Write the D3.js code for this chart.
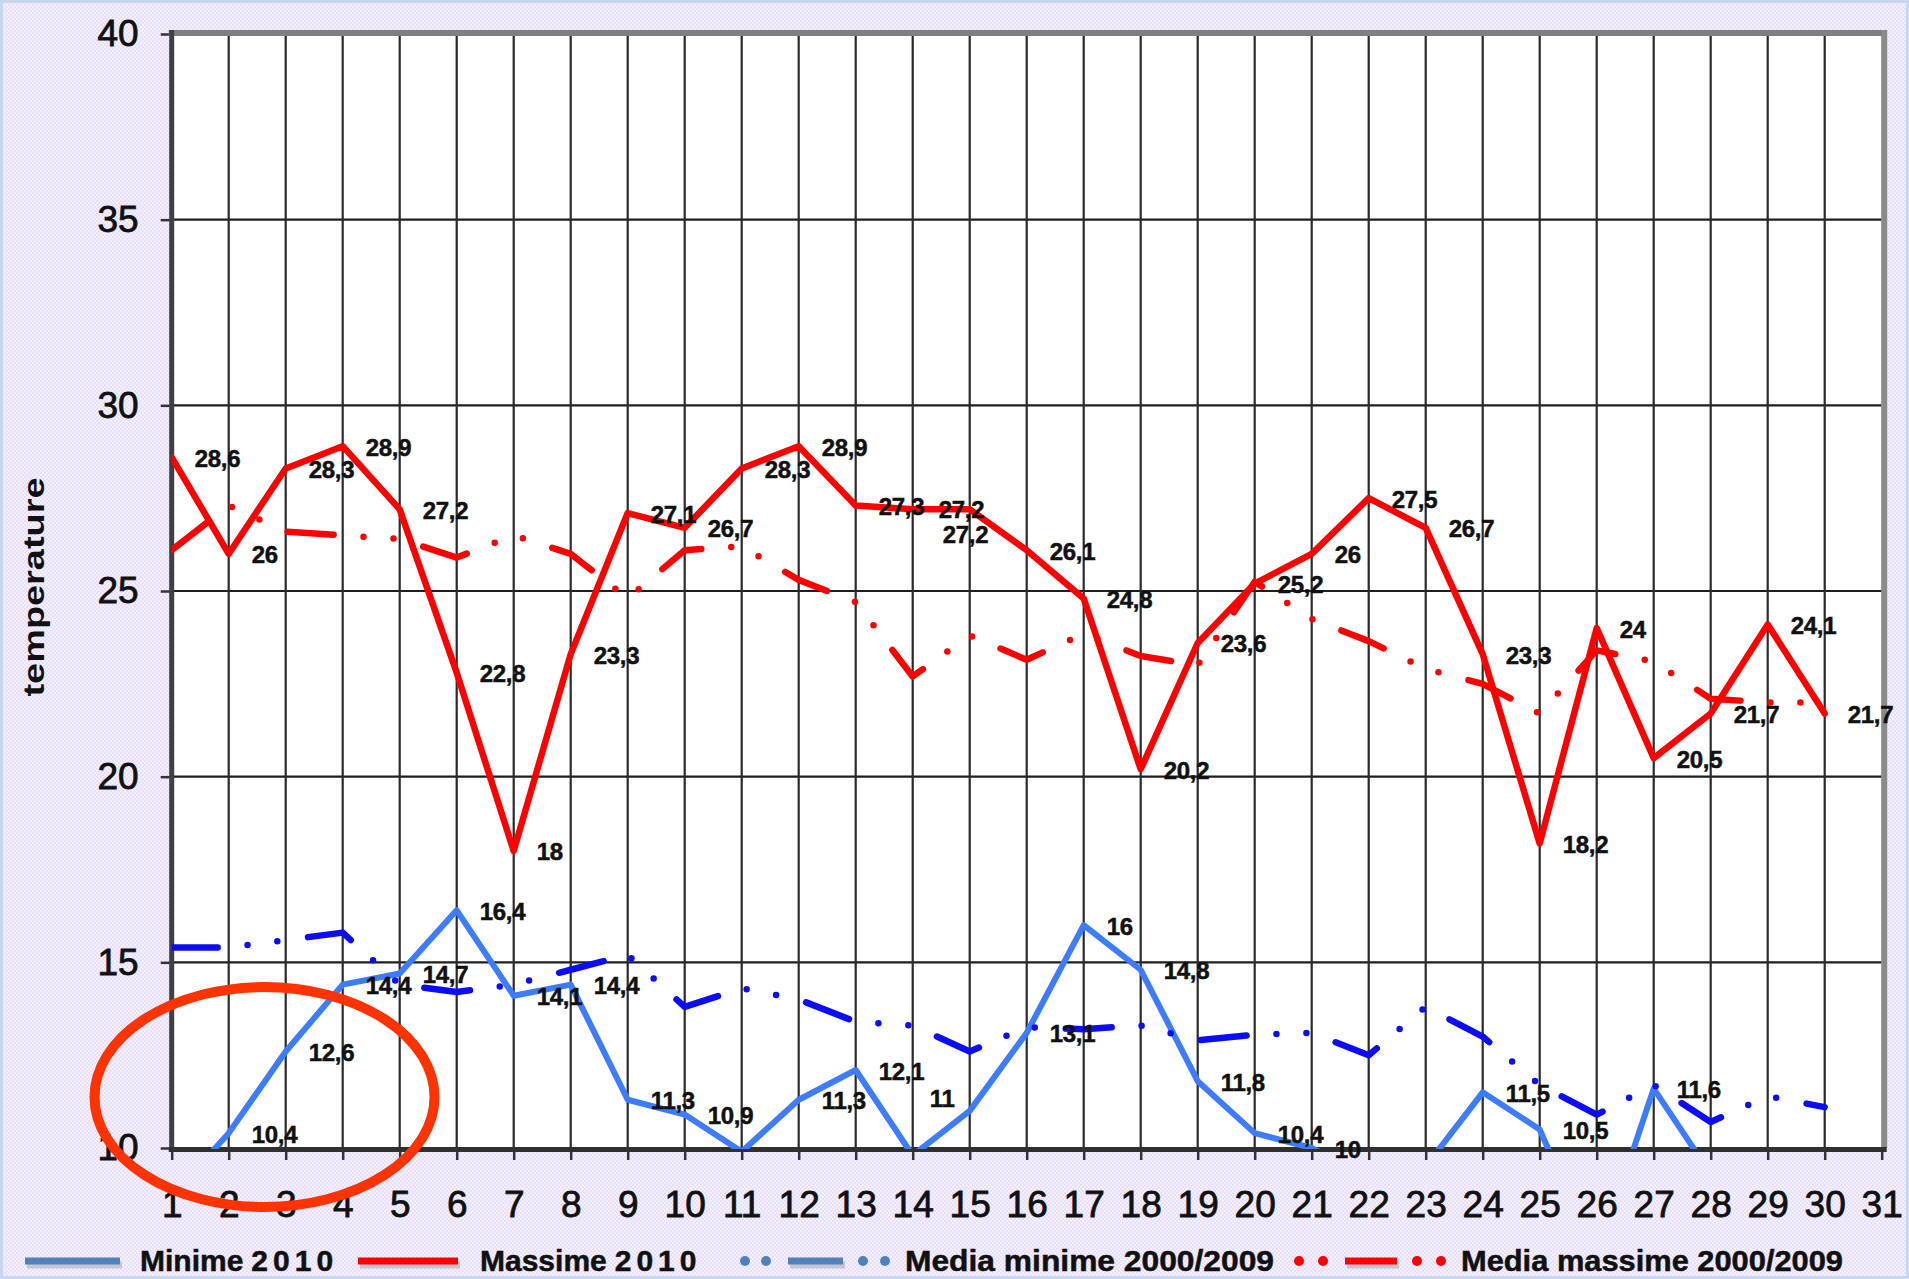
<!DOCTYPE html>
<html>
<head>
<meta charset="utf-8">
<script src="https://cdn.jsdelivr.net/npm/d3@7"></script>
<style>
  html, body { margin: 0; padding: 0; background: #f1edfb; }
  svg { display: block; }
</style>
</head>
<body>
<svg id="chart" width="1909" height="1279"></svg>
<script>
// ---------------- DATA ----------------
const days = [1, 2, 3, 4, 5, 6, 7, 8, 9, 10, 11, 12, 13, 14, 15, 16, 17, 18, 19, 20, 21, 22, 23, 24, 25, 26, 27, 28, 29, 30];
const xTickLabels = [1, 2, 3, 4, 5, 6, 7, 8, 9, 10, 11, 12, 13, 14, 15, 16, 17, 18, 19, 20, 21, 22, 23, 24, 25, 26, 27, 28, 29, 30, 31];
const yTickValues = [10, 15, 20, 25, 30, 35, 40];

const minime2010 = [8.7, 10.4, 12.6, 14.4, 14.7, 16.4, 14.1, 14.4, 11.3, 10.9, 9.9, 11.3, 12.1, 9.8, 11, 13.1, 16, 14.8, 11.8, 10.4, 10, 9.2, 9.5, 11.5, 10.5, 7.0, 11.6, 9.3, 9.0, 9.4];
const massime2010 = [28.6, 26, 28.3, 28.9, 27.2, 22.8, 18, 23.3, 27.1, 26.7, 28.3, 28.9, 27.3, 27.2, 27.2, 26.1, 24.8, 20.2, 23.6, 25.2, 26, 27.5, 26.7, 23.3, 18.2, 24, 20.5, 21.7, 24.1, 21.7];
const mediaMinime = [15.4, 15.4, 15.6, 15.8, 14.4, 14.2, 14.4, 14.8, 15.2, 13.8, 14.3, 14.0, 13.4, 13.3, 12.6, 13.25, 13.2, 13.3, 12.9, 13.05, 13.1, 12.5, 13.8, 13.0, 11.7, 10.9, 11.7, 10.7, 11.4, 11.1];
const mediaMassime = [26.1, 27.3, 26.6, 26.5, 26.4, 25.9, 26.5, 26.0, 24.8, 26.1, 26.2, 25.3, 24.7, 22.7, 23.8, 23.15, 23.85, 23.25, 23.0, 25.25, 24.25, 23.65, 22.9, 22.5, 21.7, 23.4, 23.1, 22.1, 22.0, 22.0];

const seriesNames = ["Minime 2010", "Massime 2010", "Media minime 2000/2009", "Media massime 2000/2009"];

// labels that were moved by hand in the original (day -> [dx, dy])
const labelNudges = { minime2010: { 15: [-63, -13] }, massime2010: { 14: [3, -1], 15: [-50, 24] } };

// ---------------- SETUP ----------------
const W = 1909, H = 1279;
const FONT = "'Liberation Sans', Arial, Helvetica, sans-serif";
const svg = d3.select('#chart');
const defs = svg.append('defs');

const pat = defs.append('pattern').attr('id', 'bgpat').attr('width', 4).attr('height', 4)
  .attr('patternUnits', 'userSpaceOnUse');
pat.append('rect').attr('width', 4).attr('height', 4).attr('fill', '#f3effd');
pat.append('rect').attr('x', 0).attr('y', 0).attr('width', 2).attr('height', 2).attr('fill', '#e8e0f9');
pat.append('rect').attr('x', 2).attr('y', 2).attr('width', 2).attr('height', 2).attr('fill', '#e8e0f9');

svg.append('rect').attr('width', W).attr('height', H).attr('fill', 'url(#bgpat)');
svg.append('rect').attr('x', 1.5).attr('y', 1.5).attr('width', W - 3).attr('height', H - 3)
  .attr('fill', 'none').attr('stroke', '#c8d6ee').attr('stroke-width', 3);

const x = d3.scaleLinear().domain([1, 31]).range([171.7, 1881.7]);
const y = d3.scaleLinear().domain([10, 40]).range([1148, 34]);
const [x0, x1] = x.range();
const [yb, yt] = y.range();

// plot area
svg.append('rect').attr('x', x0).attr('y', yt).attr('width', x1 - x0).attr('height', yb - yt).attr('fill', '#ffffff');

// gridlines
const grid = svg.append('g');
grid.selectAll('line.hg').data(yTickValues.filter(v => v > 10 && v < 40)).join('line')
  .attr('class', 'hg')
  .attr('x1', x0).attr('x2', x1).attr('y1', d => y(d)).attr('y2', d => y(d))
  .attr('stroke', '#1e1e1e').attr('stroke-width', 2.2);
grid.selectAll('line.vg').data(xTickLabels.filter(d => d > 1 && d < 31)).join('line')
  .attr('class', 'vg')
  .attr('x1', d => x(d)).attr('x2', d => x(d)).attr('y1', yt).attr('y2', yb)
  .attr('stroke', '#2a2a2a').attr('stroke-width', 2.2);

// axes
const yAxis = d3.axisLeft(y).tickValues(yTickValues).tickSize(11).tickPadding(22).tickFormat(d3.format('d'));
const gy = svg.append('g').attr('transform', `translate(${x0},0)`).call(yAxis);
gy.select('.domain').remove();
gy.selectAll('.tick line').attr('stroke', '#333').attr('stroke-width', 2.5);
gy.selectAll('.tick text').attr('font-family', FONT).attr('font-size', 37).attr('fill', '#111')
  .attr('stroke', '#111').attr('stroke-width', 0.8);

const xAxis = d3.axisBottom(x).tickValues(xTickLabels).tickSize(12).tickPadding(31).tickFormat(d3.format('d'));
const gx = svg.append('g').attr('transform', `translate(0,${yb})`).call(xAxis);
gx.select('.domain').remove();
gx.selectAll('.tick line').attr('stroke', '#333').attr('stroke-width', 2.5);
gx.selectAll('.tick text').attr('font-family', FONT).attr('font-size', 37).attr('fill', '#111')
  .attr('stroke', '#111').attr('stroke-width', 0.8);

// frame
const frame = svg.append('g');
frame.append('line').attr('x1', x0 - 3).attr('x2', x1 + 5).attr('y1', yt - 1).attr('y2', yt - 1)
  .attr('stroke', '#7f7f7f').attr('stroke-width', 6);
frame.append('line').attr('x1', x1 + 2.5).attr('x2', x1 + 2.5).attr('y1', yt - 4).attr('y2', yb)
  .attr('stroke', '#8a8a8a').attr('stroke-width', 6);
frame.append('line').attr('x1', x0).attr('x2', x0).attr('y1', yt - 4).attr('y2', yb + 4)
  .attr('stroke', '#404040').attr('stroke-width', 5);
frame.append('line').attr('x1', x0 - 3).attr('x2', x1 + 5).attr('y1', yb + 1.5).attr('y2', yb + 1.5)
  .attr('stroke', '#303030').attr('stroke-width', 5);

// ---------------- SERIES ----------------
defs.append('clipPath').attr('id', 'plotClip').append('rect')
  .attr('x', x0).attr('y', yt).attr('width', x1 - x0).attr('height', yb - yt + 1);

const seriesData = [
  { key: 'minime2010', name: seriesNames[0], values: minime2010 },
  { key: 'massime2010', name: seriesNames[1], values: massime2010 },
  { key: 'mediaMinime', name: seriesNames[2], values: mediaMinime },
  { key: 'mediaMassime', name: seriesNames[3], values: mediaMassime }
];
const styles = {
  minime2010: { color: '#3d7cff', width: 6, dash: null },
  massime2010: { color: '#ff0000', width: 6.5, dash: null },
  mediaMinime: { color: '#0c0cf5', width: 6.5, dash: '46 30 0 30 0 31' },
  mediaMassime: { color: '#ff0000', width: 6.5, dash: '46 30 0 30 0 31' }
};

const line = d3.line().x((d, i) => x(days[i])).y(d => y(d));
const gSeries = svg.append('g').attr('clip-path', 'url(#plotClip)');
seriesData.forEach(s => {
  const st = styles[s.key];
  gSeries.append('path')
    .datum(s.values)
    .attr('d', line)
    .attr('fill', 'none')
    .attr('stroke', st.color)
    .attr('stroke-width', st.width)
    .attr('stroke-linejoin', 'round')
    .attr('stroke-linecap', 'round')
    .attr('stroke-dasharray', st.dash);
});

// data labels
const fmt = v => String(v).replace('.', ',');
const gLabels = svg.append('g');
['minime2010', 'massime2010'].forEach(key => {
  const s = seriesData.find(d => d.key === key);
  const pts = s.values.map((v, i) => ({ day: days[i], v })).filter(p => p.v >= 10);
  gLabels.selectAll(`text.${key}`).data(pts).join('text')
    .attr('class', key)
    .attr('x', p => x(p.day) + 23 + ((labelNudges[key][p.day] || [0, 0])[0]))
    .attr('y', p => y(p.v) + 1 + ((labelNudges[key][p.day] || [0, 0])[1]))
    .attr('dominant-baseline', 'central')
    .attr('font-family', FONT)
    .attr('font-weight', 'bold')
    .attr('font-size', 24)
    .attr('letter-spacing', -0.3)
    .attr('fill', '#111')
    .attr('stroke', '#111').attr('stroke-width', 0.5)
    .text(p => fmt(p.v));
});

// y axis title
svg.append('text')
  .attr('transform', 'translate(34,587) rotate(-90)')
  .attr('text-anchor', 'middle')
  .attr('dominant-baseline', 'central')
  .attr('font-family', FONT).attr('font-weight', 'bold').attr('font-size', 29)
  .attr('fill', '#111')
  .attr('textLength', 219).attr('lengthAdjust', 'spacingAndGlyphs')
  .text('temperature');

// ---------------- LEGEND ----------------
const lg = svg.append('g');
const LY = 1261;
function legendLine(xa, xb, color) {
  lg.append('line').attr('x1', xa + 2).attr('x2', xb + 2).attr('y1', LY + 4).attr('y2', LY + 4)
    .attr('stroke', '#9a9a9a').attr('stroke-opacity', 0.45).attr('stroke-width', 7);
  lg.append('line').attr('x1', xa).attr('x2', xb).attr('y1', LY).attr('y2', LY)
    .attr('stroke', color).attr('stroke-width', 7);
}
function legendDashDot(xs, color) {
  // xs: [dot, dot, dashStart, dashEnd, dot, dot]
  [xs[0], xs[1], xs[4], xs[5]].forEach(cx => {
    lg.append('circle').attr('cx', cx).attr('cy', LY).attr('r', 5).attr('fill', color);
  });
  legendLine(xs[2], xs[3], color);
}
function legendText(xs, parts, len) {
  const t = lg.append('text').attr('x', xs).attr('y', LY + 10)
    .attr('font-family', FONT).attr('font-weight', 'bold').attr('font-size', 30).attr('fill', '#111')
    .attr('stroke', '#111').attr('stroke-width', 0.5);
  if (len) {
    t.attr('textLength', len).attr('lengthAdjust', 'spacingAndGlyphs').text(parts[0]);
  } else {
    t.append('tspan').text(parts[0]);
    t.append('tspan').attr('dx', 8).attr('letter-spacing', 5).text(parts[1]);
  }
}
legendLine(25, 120, '#4f81bd');
legendText(140, ['Minime', '2010']);
legendLine(358, 458, '#ff0000');
legendText(480, ['Massime', '2010']);
legendDashDot([745, 766, 788, 843, 863, 885], '#4f81bd');
legendText(905, [seriesNames[2]], 369);
legendDashDot([1299, 1323, 1345, 1397, 1417, 1441], '#ff0000');
legendText(1461, [seriesNames[3]], 382);

// ---------------- ANNOTATION ----------------
svg.append('ellipse')
  .attr('cx', 264.5).attr('cy', 1097).attr('rx', 170).attr('ry', 110)
  .attr('fill', 'none').attr('stroke', '#ff3300').attr('stroke-width', 10);
</script>
</body>
</html>
